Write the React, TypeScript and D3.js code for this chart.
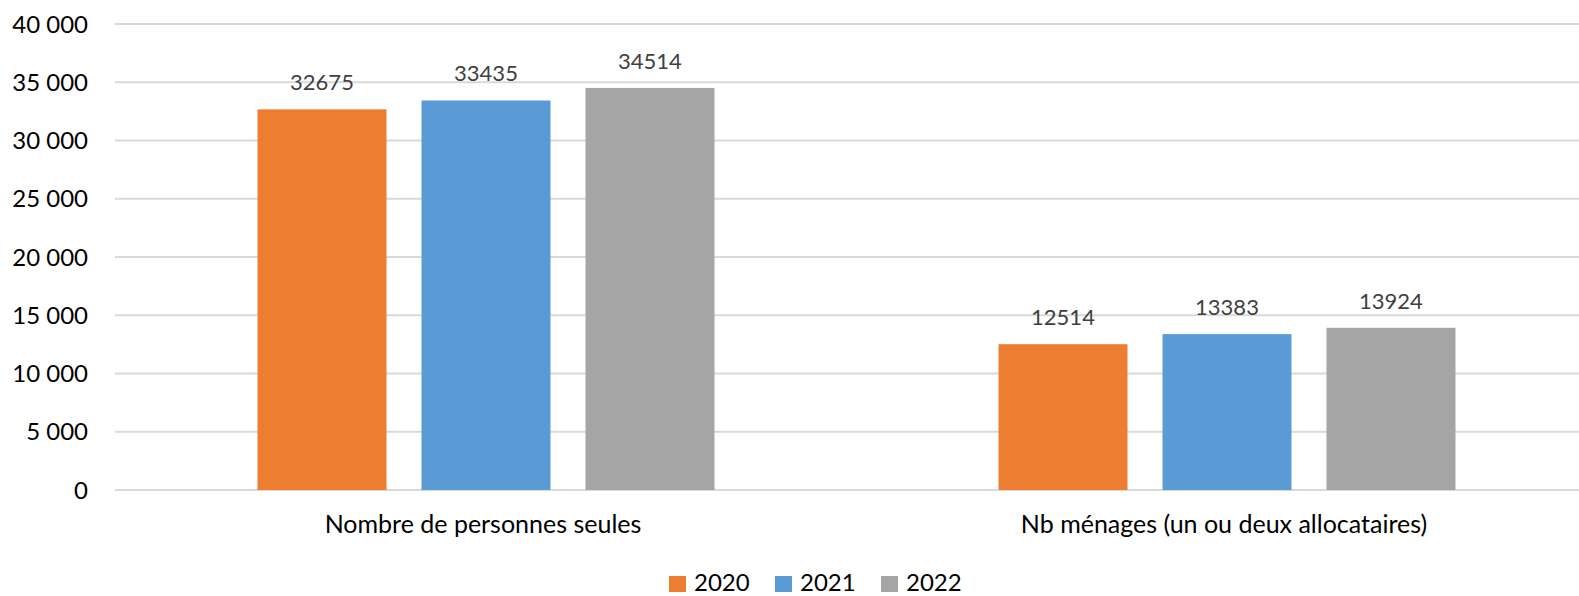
import React from "react";
import * as d3 from "d3";

const categories = ["Nombre de personnes seules", "Nb ménages (un ou deux allocataires)"];
const years = ["2020", "2021", "2022"];
const values2020 = [32675, 12514];
const values2021 = [33435, 13383];
const values2022 = [34514, 13924];
const yTicks = [0, 5000, 10000, 15000, 20000, 25000, 30000, 35000, 40000];
const colors = ["#ED7D31", "#5B9BD5", "#A5A5A5"];

const W = 1579;
const H = 596;
const FONT = "Lato, 'Open Sans', sans-serif";

const fmt = d3
  .formatLocale({ decimal: ",", thousands: " ", grouping: [3], currency: ["", ""] })
  .format(",d");

export default function App() {
  const series = [values2020, values2021, values2022];
  const x0 = d3.scaleBand<string>().domain(categories).range([115.5, 1597.5]);
  const x1 = d3
    .scaleBand<string>()
    .domain(years)
    .range([0, x0.bandwidth()])
    .paddingInner(35 / 164)
    .paddingOuter(0.866);
  const y = d3.scaleLinear().domain([0, 40000]).range([490, 24]);
  const gridX1 = 115;
  const gridX2 = W;

  return (
    <svg
      width={W}
      height={H}
      style={{ position: "absolute", left: 0, top: 0, display: "block", background: "#fff" }}
      fontFamily={FONT}
    >
      {yTicks.map((t) => (
        <g key={t}>
          <line x1={gridX1} x2={gridX2} y1={y(t)} y2={y(t)} stroke="#D9D9D9" strokeWidth={2} />
          <text x={88} y={y(t)} dy="0.36em" textAnchor="end" fontSize={24} fill="#000">
            {fmt(t)}
          </text>
        </g>
      ))}
      {categories.map((c, ci) => (
        <g key={c} transform={`translate(${x0(c)},0)`}>
          {years.map((yr, si) => {
            const v = series[si][ci];
            const bx = x1(yr)!;
            const bw = x1.bandwidth();
            return (
              <g key={yr}>
                <rect x={bx} y={y(v)} width={bw} height={y(0) - y(v)} fill={colors[si]} />
                <text x={bx + bw / 2} y={y(v) - 19} textAnchor="middle" fontSize={22} fill="#404040">
                  {v}
                </text>
              </g>
            );
          })}
          <text x={x0.bandwidth() / 2 - 3} y={533} textAnchor="middle" fontSize={25} fill="#000">
            {c}
          </text>
        </g>
      ))}
      {years.map((yr, i) => (
        <g key={yr} transform={`translate(${669 + i * 106},0)`}>
          <rect x={0} y={576} width={17} height={16} fill={colors[i]} />
          <text x={25} y={591} fontSize={24} fill="#000">
            {yr}
          </text>
        </g>
      ))}
    </svg>
  );
}
